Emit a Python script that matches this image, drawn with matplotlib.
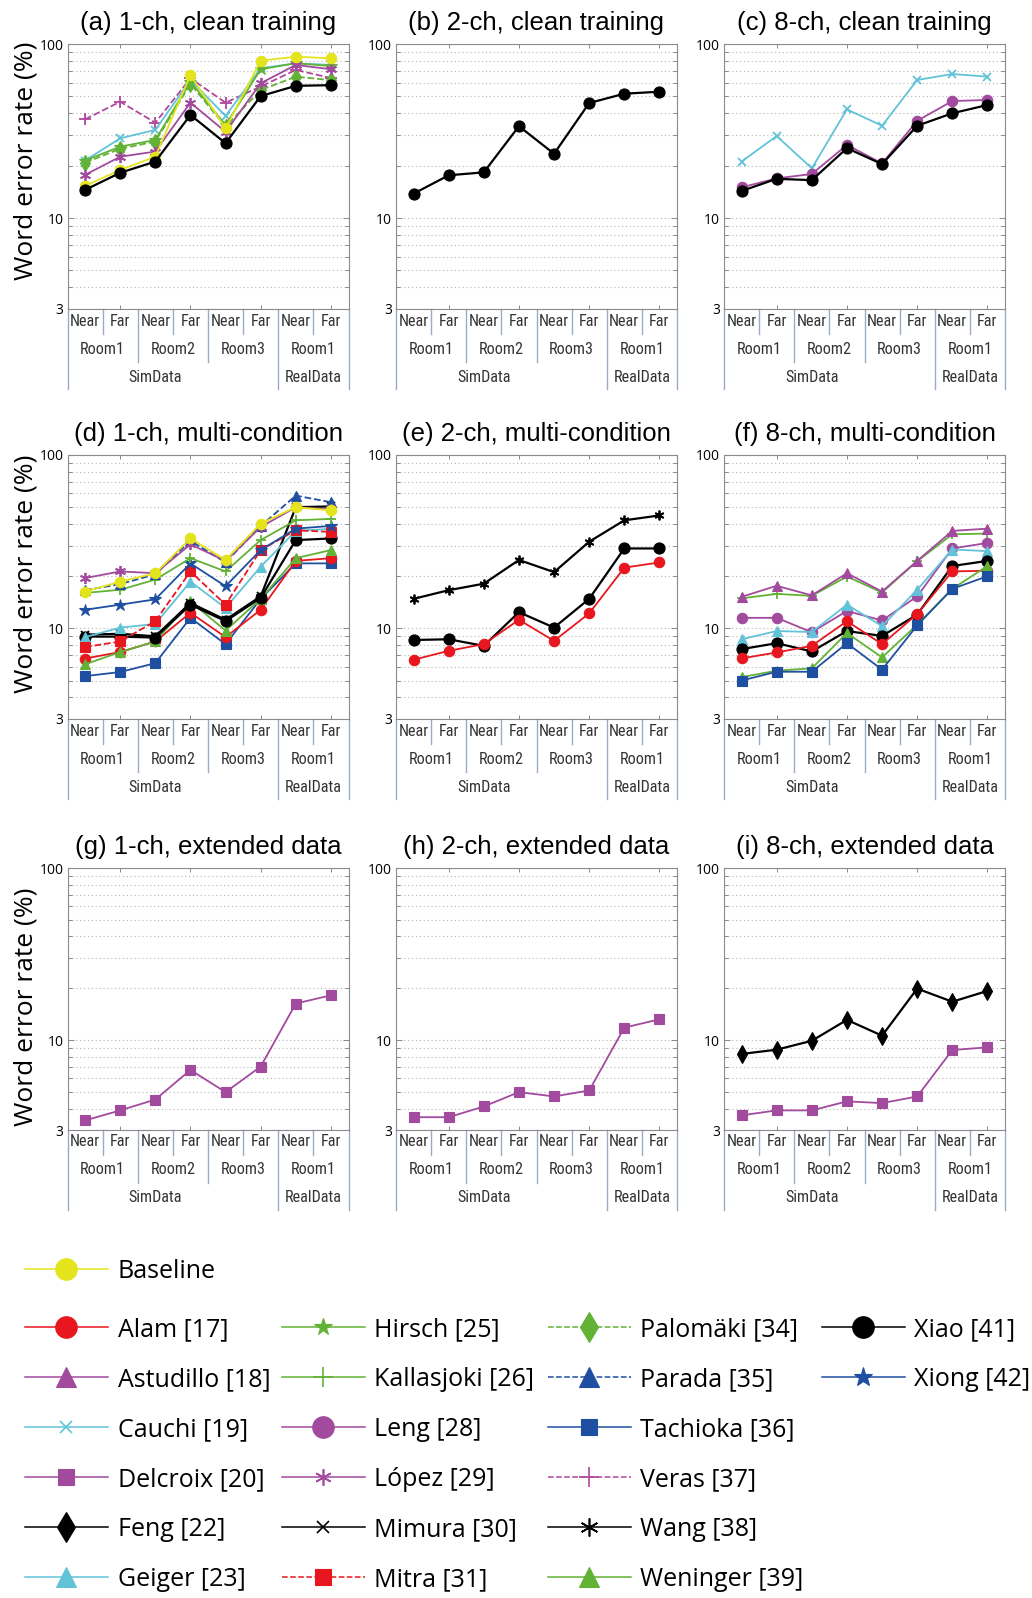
import os
import numpy as np
import matplotlib
matplotlib.use('Agg')
import matplotlib.pyplot as plt
from matplotlib.lines import Line2D
from matplotlib.transforms import blended_transform_factory
from matplotlib import font_manager
from matplotlib.font_manager import FontProperties

# ---------------- data ----------------
cond_labels = ['Near', 'Far', 'Near', 'Far', 'Near', 'Far', 'Near', 'Far']
room_labels = ['Room1', 'Room2', 'Room3', 'Room1']
set_labels = ['SimData', 'RealData']
y_ticks = [3, 10, 100]
y_tick_labels = ['3', '10', '100']

panel_titles = ['(a) 1-ch, clean training', '(b) 2-ch, clean training', '(c) 8-ch, clean training',
                '(d) 1-ch, multi-condition', '(e) 2-ch, multi-condition', '(f) 8-ch, multi-condition',
                '(g) 1-ch, extended data', '(h) 2-ch, extended data', '(i) 8-ch, extended data']

# (a) 1-ch clean
a_veras = [36.9, 46.6, 35.3, 63.5, 46.0, 57.0, 70.9, 63.8]
a_palomaki = [20.8, 25.0, 27.5, 59.0, 33.5, 54.4, 64.9, 62.0]
a_cauchi = [21.4, 28.7, 32.1, 62.1, 38.6, 72.5, 77.5, 75.8]
a_hirsch = [21.4, 25.7, 28.1, 60.7, 34.2, 71.6, 77.5, 74.7]
a_lopez = [17.7, 22.5, 24.1, 46.0, 31.3, 59.5, 75.8, 71.6]
a_baseline = [15.3, 18.9, 22.5, 66.4, 32.7, 80.2, 84.5, 82.8]
a_xiao = [14.5, 18.2, 21.1, 39.1, 26.9, 50.2, 57.5, 58.0]
# (b) 2-ch clean
b_xiao = [13.8, 17.6, 18.3, 33.7, 23.4, 45.8, 51.8, 53.2]
# (c) 8-ch clean
c_cauchi = [21.1, 29.6, 19.3, 42.1, 33.9, 62.1, 67.2, 64.9]
c_leng = [15.0, 16.9, 17.9, 26.3, 20.6, 36.2, 47.0, 47.7]
c_xiao = [14.3, 16.8, 16.5, 25.2, 20.4, 33.9, 40.0, 44.6]
# (d) 1-ch multi-condition
d_tachioka = [5.3, 5.6, 6.3, 11.5, 8.1, 14.8, 23.7, 23.7]
d_alam = [6.7, 7.3, 8.4, 12.3, 8.9, 12.8, 24.5, 25.4]
d_weninger = [6.2, 7.3, 8.4, 14.3, 9.7, 14.8, 25.4, 28.3]
d_mimura = [9.2, 9.3, 9.0, 14.0, 11.2, 15.3, 50.0, 50.5]
d_xiao = [8.96, 8.96, 8.85, 13.7, 11.0, 15.0, 32.3, 33.0]
d_geiger = [8.9, 10.1, 10.6, 18.6, 13.1, 22.7, 36.5, 37.5]
d_mitra = [7.8, 8.4, 11.0, 21.3, 13.7, 28.3, 36.8, 36.0]
d_xiong = [12.8, 13.7, 14.7, 23.7, 17.5, 28.3, 37.6, 39.0]
d_kallasjoki = [16.0, 16.7, 19.1, 25.4, 21.3, 32.3, 42.0, 42.8]
d_parada = [16.6, 18.0, 20.5, 32.0, 24.0, 39.0, 58.3, 53.4]
d_lopez = [19.5, 21.3, 20.8, 30.5, 24.5, 38.4, 50.0, 48.5]
d_baseline = [16.3, 18.6, 20.8, 33.0, 24.8, 40.2, 50.0, 47.9]
# (e) 2-ch multi-condition
e_wang = [14.8, 16.6, 18.1, 24.8, 21.1, 31.6, 42.0, 44.8]
e_xiao = [8.57, 8.65, 7.93, 12.4, 10.1, 14.8, 28.9, 28.9]
e_alam = [6.59, 7.42, 8.11, 11.2, 8.47, 12.2, 22.4, 24.0]
# (f) 8-ch multi-condition
f_kallasjoki = [14.9, 15.8, 15.4, 19.9, 16.1, 24.4, 34.9, 35.2]
f_astudillo = [15.2, 17.6, 15.5, 20.8, 16.3, 24.5, 36.5, 37.6]
f_leng = [11.5, 11.5, 9.5, 12.6, 11.1, 15.3, 28.9, 31.1]
f_geiger = [8.65, 9.65, 9.53, 13.7, 10.3, 16.7, 28.5, 27.9]
f_xiao = [7.59, 8.21, 7.36, 9.65, 9.04, 12.0, 22.9, 24.5]
f_alam = [6.71, 7.26, 7.93, 11.0, 8.11, 12.1, 21.3, 21.5]
f_weninger = [5.23, 5.70, 5.88, 9.4, 6.80, 10.5, 16.9, 22.9]
f_tachioka = [5.0, 5.62, 5.62, 8.21, 5.78, 10.4, 16.9, 20.0]
# (g)-(i) extended data
g_delcroix = [3.41, 3.90, 4.51, 6.70, 4.98, 7.01, 16.3, 18.2]
h_delcroix = [3.56, 3.56, 4.11, 4.98, 4.70, 5.09, 11.8, 13.2]
i_feng = [8.30, 8.79, 9.9, 13.1, 10.6, 19.9, 16.7, 19.3]
i_delcroix = [3.65, 3.90, 3.90, 4.40, 4.30, 4.70, 8.75, 9.07]

# ---------------- styles ----------------
ASTER = (6, 2, 0)
PURPLE = '#a24a9e'
CYAN = '#62c3d8'
GREEN = '#62b236'
BLUE = '#1f4fa0'
RED = '#e8161e'
YELLOW = '#e4e41c'
styles = {
    'Baseline':       dict(color=YELLOW, marker='o', ls='-', ms=7.5, lms=15.5),
    'Alam [17]':      dict(color=RED, marker='o', ls='-', ms=7.5, lms=15.5),
    'Astudillo [18]': dict(color=PURPLE, marker='^', ls='-', ms=7.5, lms=15),
    'Cauchi [19]':    dict(color=CYAN, marker='x', ls='-', ms=5.5, lms=9),
    'Delcroix [20]':  dict(color=PURPLE, marker='s', ls='-', ms=6.5, lms=11.5),
    'Feng [22]':      dict(color='black', marker='d', ls='-', ms=9, lms=15),
    'Geiger [23]':    dict(color=CYAN, marker='^', ls='-', ms=7.5, lms=15),
    'Hirsch [25]':    dict(color=GREEN, marker='*', ls='-', ms=9, lms=13),
    'Kallasjoki [26]': dict(color=GREEN, marker='+', ls='-', ms=7, lms=15),
    'Leng [28]':      dict(color=PURPLE, marker='o', ls='-', ms=7.5, lms=15.5),
    'López [29]':     dict(color=PURPLE, marker=ASTER, ls='-', ms=8, lms=12),
    'Mimura [30]':    dict(color='black', marker='x', ls='-', ms=5.5, lms=9),
    'Mitra [31]':     dict(color=RED, marker='s', ls='--', ms=6.5, lms=11.5),
    'Palomäki [34]':  dict(color=GREEN, marker='d', ls='--', ms=8, lms=15),
    'Parada [35]':    dict(color=BLUE, marker='^', ls='--', ms=7.5, lms=15),
    'Tachioka [36]':  dict(color=BLUE, marker='s', ls='-', ms=6.5, lms=11.5),
    'Veras [37]':     dict(color='#b0479c', marker='+', ls='--', ms=8, lms=15),
    'Wang [38]':      dict(color='black', marker=ASTER, ls='-', ms=7, lms=13),
    'Weninger [39]':  dict(color=GREEN, marker='^', ls='-', ms=7.5, lms=15),
    'Xiao [41]':      dict(color='black', marker='o', ls='-', ms=8, lms=15.5),
    'Xiong [42]':     dict(color=BLUE, marker='*', ls='-', ms=9, lms=14),
}

panels = [
    [('Veras [37]', a_veras), ('Palomäki [34]', a_palomaki), ('Cauchi [19]', a_cauchi),
     ('Hirsch [25]', a_hirsch), ('López [29]', a_lopez), ('Baseline', a_baseline), ('Xiao [41]', a_xiao)],
    [('Xiao [41]', b_xiao)],
    [('Cauchi [19]', c_cauchi), ('Leng [28]', c_leng), ('Xiao [41]', c_xiao)],
    [('Tachioka [36]', d_tachioka), ('Alam [17]', d_alam), ('Weninger [39]', d_weninger),
     ('Mimura [30]', d_mimura), ('Xiao [41]', d_xiao), ('Geiger [23]', d_geiger), ('Mitra [31]', d_mitra),
     ('Xiong [42]', d_xiong), ('Kallasjoki [26]', d_kallasjoki), ('Parada [35]', d_parada),
     ('López [29]', d_lopez), ('Baseline', d_baseline)],
    [('Wang [38]', e_wang), ('Xiao [41]', e_xiao), ('Alam [17]', e_alam)],
    [('Kallasjoki [26]', f_kallasjoki), ('Astudillo [18]', f_astudillo), ('Leng [28]', f_leng),
     ('Geiger [23]', f_geiger), ('Xiao [41]', f_xiao), ('Alam [17]', f_alam),
     ('Weninger [39]', f_weninger), ('Tachioka [36]', f_tachioka)],
    [('Delcroix [20]', g_delcroix)],
    [('Delcroix [20]', h_delcroix)],
    [('Feng [22]', i_feng), ('Delcroix [20]', i_delcroix)],
]

legend_cols = [
    ['Alam [17]', 'Astudillo [18]', 'Cauchi [19]', 'Delcroix [20]', 'Feng [22]', 'Geiger [23]'],
    ['Hirsch [25]', 'Kallasjoki [26]', 'Leng [28]', 'López [29]', 'Mimura [30]', 'Mitra [31]'],
    ['Palomäki [34]', 'Parada [35]', 'Tachioka [36]', 'Veras [37]', 'Wang [38]', 'Weninger [39]'],
    ['Xiao [41]', 'Xiong [42]'],
]

# ---------------- fonts ----------------
TITLEFONT = 'Liberation Sans'
LEGFONT = 'Open Sans'

narrow_path = None
for cand in ['liberationsansnarrow-regular', 'robotocondensed-regular', 'dejavusanscondensed.ttf',
             'opensans_condensed-regular', 'opensanscondensed-regular', 'notosans-condensed.ttf']:
    for fe in font_manager.fontManager.ttflist:
        if os.path.basename(fe.fname).lower().startswith(cand):
            narrow_path = fe.fname
            break
    if narrow_path:
        break

W, H = 1032, 1598
fig = plt.figure(figsize=(W / 100, H / 100), dpi=100)
renderer = fig.canvas.get_renderer()


def tick_font(size):
    if narrow_path:
        return FontProperties(fname=narrow_path, size=size)
    return FontProperties(family='Liberation Sans', size=size)


probe = fig.text(0, 0, 'Near', fontproperties=tick_font(10))
wpx = probe.get_window_extent(renderer).width
probe.remove()
TICKSIZE = min(13.0, 10 * 30.0 / wpx)
TICKFP = tick_font(TICKSIZE)

col_left = [67.5, 396, 724]
ax_w = 281
rows = [(44, 309), (455, 719), (868, 1130)]
ylab_center = [0.56, 0.55, 0.47]
SEP = '#9aabc4'

x = np.arange(len(cond_labels))

for p, series in enumerate(panels):
    r, c = divmod(p, 3)
    top, bot = rows[r]
    ax = fig.add_axes([col_left[c] / W, 1 - bot / H, ax_w / W, (bot - top) / H])
    for name, vals in series:
        st = styles[name]
        lw = 1.6 if st['color'] == 'black' else 1.3
        ax.plot(x, vals, color=st['color'], marker=st['marker'], ls=st['ls'], lw=lw,
                ms=st['ms'], mew=1.3 if st['marker'] in ('x', '+', ASTER) else 0.8,
                mec=st['color'], mfc=st['color'], clip_on=False)
    ax.set_yscale('log')
    ax.set_ylim(3, 100)
    ax.set_xlim(-0.5, 7.5)
    ax.set_yticks(y_ticks)
    ax.set_yticklabels(y_tick_labels, family=LEGFONT, fontsize=10)
    ax.set_yticks([4, 5, 6, 7, 8, 9, 20, 30, 40, 50, 60, 70, 80, 90], minor=True)
    ax.yaxis.set_minor_formatter(plt.NullFormatter())
    ax.set_xticks([1, 3, 5, 7])
    ax.set_xticklabels([])
    ax.tick_params(axis='both', which='both', direction='in', top=True, right=True,
                   color='#888888', length=3, width=0.7, pad=3)
    ax.tick_params(axis='y', which='major', length=4)
    ax.yaxis.grid(True, which='both', ls=(0, (1, 2.5)), color='#b4b4b4', lw=0.8)
    for s in ax.spines.values():
        s.set_color('#8a8a8a')
        s.set_linewidth(0.8)
    ax.set_title(panel_titles[p], family=TITLEFONT, fontsize=18.5, pad=10)
    if c == 0:
        ax.text(-0.147, ylab_center[r], 'Word error rate (%)', rotation=90, ha='center', va='center',
                transform=ax.transAxes, family=LEGFONT, fontsize=19)

    # categorical x annotation below the axis
    hpx = bot - top
    tr = blended_transform_factory(ax.transData, ax.transAxes)
    f = lambda px: -px / hpx
    for i, lab in enumerate(cond_labels):
        ax.text(x[i], f(12), lab, transform=tr, ha='center', va='center',
                fontproperties=TICKFP, color='#333333')
    for k, lab in enumerate(room_labels):
        ax.text(x[2 * k] + 0.5, f(40), lab, transform=tr, ha='center', va='center',
                fontproperties=TICKFP, color='#333333')
    ax.text(x[0] + 2.0, f(68), set_labels[0], transform=tr, ha='center', va='center',
            fontproperties=TICKFP, color='#333333')
    ax.text(x[6] + 0.5, f(68), set_labels[1], transform=tr, ha='center', va='center',
            fontproperties=TICKFP, color='#333333')
    for k in range(4):
        xs = x[2 * k] + 0.5
        ax.plot([xs, xs], [0, f(25)], transform=tr, color=SEP, lw=1, clip_on=False)
    for xs in [x[2] - 0.5, x[4] - 0.5]:
        ax.plot([xs, xs], [0, f(53)], transform=tr, color=SEP, lw=1, clip_on=False)
    for xs in [x[0] - 0.5, x[6] - 0.5, x[7] + 0.5]:
        ax.plot([xs, xs], [0, f(80)], transform=tr, color=SEP, lw=1, clip_on=False)


def handle(name):
    st = styles[name]
    return Line2D([], [], color=st['color'], marker=st['marker'], ls=st['ls'], lw=1.1,
                  ms=st['lms'], mec=st['color'], mfc=st['color'],
                  mew=1.2 if st['marker'] in ('x', '+', ASTER) else 0.8)


leg_kw = dict(frameon=False, loc='upper left', borderpad=0, borderaxespad=0, handlelength=3.3,
              handletextpad=0.4, labelspacing=1.0, prop={'family': LEGFONT, 'size': 18})
fig.legend([handle('Baseline')], ['Baseline'], bbox_to_anchor=(25 / W, 1 - 1259 / H), **leg_kw)
col_x = [25, 282, 548, 822]
for cx, names in zip(col_x, legend_cols):
    fig.legend([handle(n) for n in names], names, bbox_to_anchor=(cx / W, 1 - 1317 / H), **leg_kw)

fig.savefig('out.png', dpi=100)
